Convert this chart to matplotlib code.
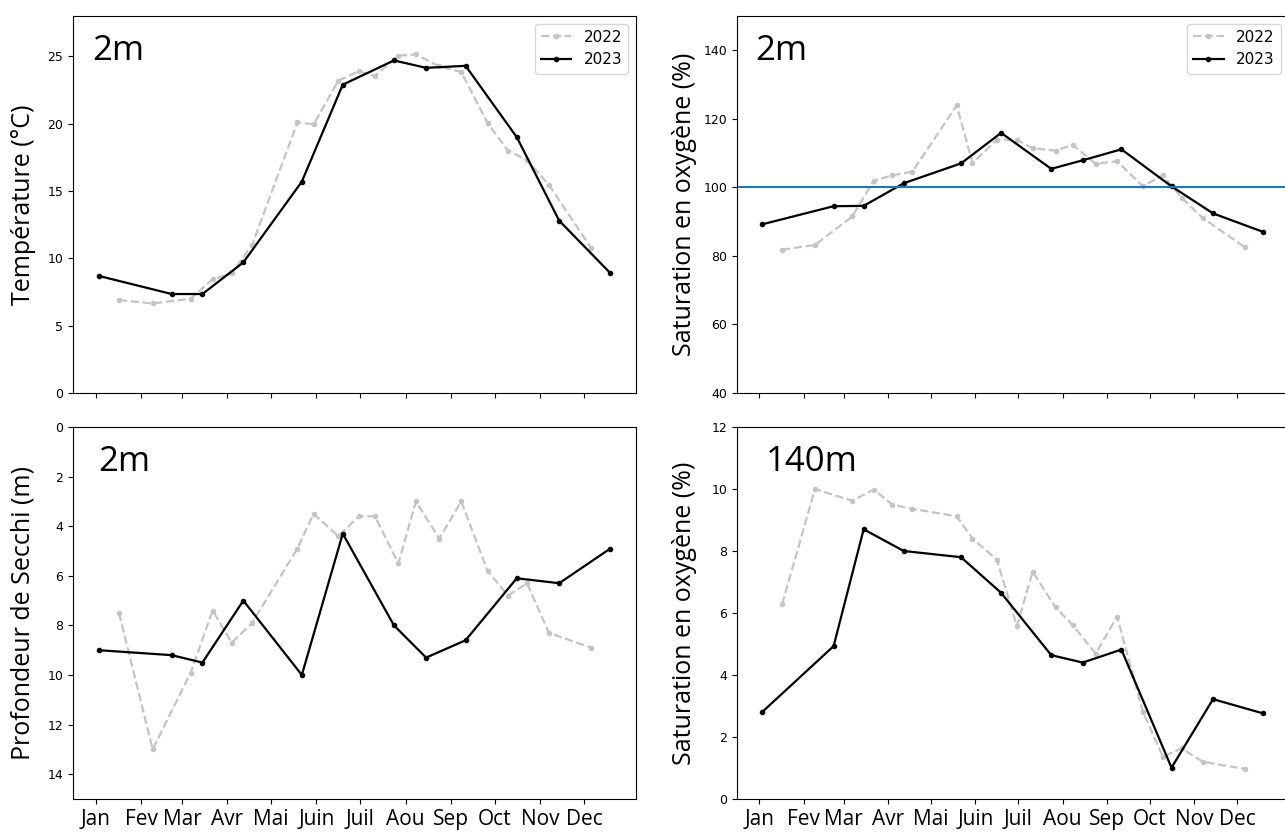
import matplotlib
matplotlib.use("Agg")
from matplotlib import pyplot as plt
import matplotlib.dates as mdates
import pandas as pd

mois = ["Jan", "Fev", "Mar", "Avr", "Mai", "Juin",
        "Juil", "Aou", "Sep", "Oct", "Nov", "Dec"]

# campagnes 2023
dates_2023 = pd.to_datetime([
    "2023-01-03", "2023-02-22", "2023-03-15", "2023-04-12", "2023-05-22", "2023-06-19",
    "2023-07-24", "2023-08-15", "2023-09-11", "2023-10-16", "2023-11-14", "2023-12-19",
])
# campagnes 2022, ramenees sur le calendrier 2023 pour la comparaison
dates_2022 = pd.to_datetime([
    "2023-01-17", "2023-02-09", "2023-03-07", "2023-03-22", "2023-04-04", "2023-04-18",
    "2023-05-19", "2023-05-30", "2023-06-16", "2023-06-30", "2023-07-11", "2023-07-27",
    "2023-08-08", "2023-08-24", "2023-09-08", "2023-09-26", "2023-10-10", "2023-10-23",
    "2023-11-07", "2023-12-06",
])

temp_2023 = [8.7, 7.35, 7.35, 9.7, 15.7, 22.9, 24.7, 24.15, 24.3, 19.0, 12.8, 8.9]
temp_2022 = [6.9, 6.65, 7.0, 8.45, 8.9, 11.0, 20.1, 19.95, 23.2, 23.9, 23.55, 25.05,
             25.15, 24.25, 23.85, 20.05, 18.0, 17.3, 15.45, 10.75]

sat2_2023 = [89.2, 94.5, 94.6, 101.2, 107.0, 115.9, 105.4, 107.9, 111.1, 100.3, 92.4, 87.0]
sat2_2022 = [81.8, 83.2, 91.5, 101.9, 103.5, 104.6, 123.9, 107.1, 113.9, 113.9, 111.4, 110.7,
             112.4, 106.9, 107.6, 100.3, 103.5, 97.0, 91.0, 82.6]

secchi_2023 = [9.0, 9.2, 9.5, 7.0, 10.0, 4.3, 8.0, 9.3, 8.6, 6.1, 6.3, 4.9]
secchi_2022 = [7.5, 13.0, 9.9, 7.4, 8.7, 7.9, 4.9, 3.5, 4.4, 3.6, 3.6, 5.5,
               3.0, 4.5, 3.0, 5.8, 6.8, 6.3, 8.3, 8.9]

sat140_2023 = [2.8, 4.93, 8.7, 8.0, 7.8, 6.65, 4.64, 4.4, 4.82, 1.01, 3.22, 2.76]
sat140_2022 = [6.28, 10.0, 9.62, 9.98, 9.5, 9.36, 9.12, 8.4, 7.72, 5.58, 7.33, 6.18,
               5.61, 4.69, 5.88, 2.81, 1.36, 1.63, 1.2, 0.97]

label_font = "Open Sans"
debuts_mois = pd.date_range("2023-01-01", periods=12, freq="MS")

fig = plt.figure(figsize=(12.85, 8.34), dpi=100)
ax_temp = fig.add_axes([0.0568, 0.5288, 0.4381, 0.4520])
ax_sat2 = fig.add_axes([0.5735, 0.5288, 0.4290, 0.4520])
ax_secchi = fig.add_axes([0.0568, 0.0420, 0.4381, 0.4460])
ax_sat140 = fig.add_axes([0.5735, 0.0420, 0.4290, 0.4460])

panels = [
    (ax_temp, temp_2022, temp_2023, "Température (°C)", "2m", (0, 28), 0.034),
    (ax_sat2, sat2_2022, sat2_2023, "Saturation en oxygène (%)", "2m", (40, 150), 0.034),
    (ax_secchi, secchi_2022, secchi_2023, "Profondeur de Secchi (m)", "2m", (15, 0), 0.045),
    (ax_sat140, sat140_2022, sat140_2023, "Saturation en oxygène (%)", "140m", (0, 12), 0.052),
]

for ax, v2022, v2023, ylab, prof, ylim, xtxt in panels:
    ax.plot(dates_2022, v2022, "o--", color="#c4c4c4", lw=1.6, ms=3, label="2022")
    ax.plot(dates_2023, v2023, "o-", color="black", lw=1.6, ms=3, label="2023")
    ax.set_ylim(*ylim)
    ax.set_xticks(debuts_mois)
    ax.set_xticklabels(mois, fontsize=15, family=label_font)
    ax.tick_params(axis="y", labelsize=9)
    ax.set_ylabel(ylab, fontsize=18, family=label_font)
    ax.text(xtxt, 0.907, prof, transform=ax.transAxes, fontsize=25,
            family=label_font, va="center", ha="left")

ax_temp.yaxis.set_label_coords(-0.066, 0.5)
ax_secchi.yaxis.set_label_coords(-0.066, 0.5)
ax_sat2.yaxis.set_label_coords(-0.073, 0.5)
ax_sat140.yaxis.set_label_coords(-0.073, 0.5)

ax_sat2.axhline(100, color="#1f77b4", lw=1.5)

ax_temp.tick_params(axis="x", labelbottom=False)
ax_sat2.tick_params(axis="x", labelbottom=False)

ax_temp.legend(loc="upper right", fontsize=11)
ax_sat2.legend(loc="upper right", fontsize=11)

plt.savefig("out.png", dpi=100)
